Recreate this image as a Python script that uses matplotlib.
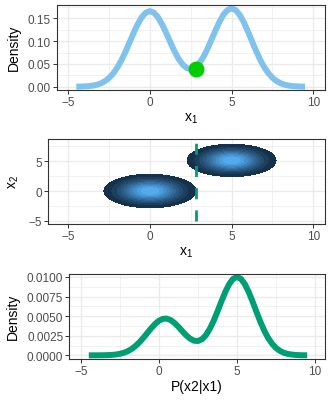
"""Three stacked panels: marginal density of x1, joint density, conditional P(x2|x1)."""

import matplotlib

matplotlib.use("Agg")
import matplotlib.pyplot as plt
import numpy as np
from matplotlib.colors import LinearSegmentedColormap

plt.rcParams["font.family"] = ["Liberation Sans", "DejaVu Sans"]
plt.rcParams["mathtext.fontset"] = "custom"
plt.rcParams["mathtext.rm"] = "Liberation Sans"

# --- data ------------------------------------------------------------------
grid_x = [-4.5, -4.25, -4.0, -3.75, -3.5, -3.25, -3.0, -2.75, -2.5, -2.25,
          -2.0, -1.75, -1.5, -1.25, -1.0, -0.75, -0.5, -0.25, 0.0, 0.25,
          0.5, 0.75, 1.0, 1.25, 1.5, 1.75, 2.0, 2.25, 2.5, 2.75, 3.0, 3.25,
          3.5, 3.75, 4.0, 4.25, 4.5, 4.75, 5.0, 5.25, 5.5, 5.75, 6.0, 6.25,
          6.5, 6.75, 7.0, 7.25, 7.5, 7.75, 8.0, 8.25, 8.5, 8.75, 9.0, 9.25,
          9.5]

# marginal density of x1
dens_x1 = [0.0001, 0.0003, 0.0006, 0.0013, 0.0024, 0.0042, 0.0073, 0.0120,
           0.0190, 0.0286, 0.0414, 0.0573, 0.0760, 0.0965, 0.1173, 0.1366,
           0.1522, 0.1624, 0.1660, 0.1625, 0.1524, 0.1369, 0.1180, 0.0978,
           0.0784, 0.0617, 0.0490, 0.0411, 0.0386, 0.0417, 0.0502, 0.0636,
           0.0811, 0.1013, 0.1221, 0.1418, 0.1578, 0.1683, 0.1720, 0.1683,
           0.1577, 0.1415, 0.1215, 0.1000, 0.0787, 0.0594, 0.0429, 0.0297,
           0.0196, 0.0125, 0.0076, 0.0044, 0.0024, 0.0013, 0.0007, 0.0003,
           0.00015]

# conditional density P(x2|x1)
dens_cond = [0.0, 0.000001, 0.000003, 0.000007, 0.000015, 0.000031, 0.000059,
             0.00011, 0.0002, 0.00033, 0.00053, 0.00082, 0.0012, 0.00168,
             0.00224, 0.00285, 0.00346, 0.00401, 0.00442, 0.00466, 0.00469,
             0.0045, 0.00412, 0.00363, 0.00307, 0.00254, 0.00212, 0.00186,
             0.00183, 0.00205, 0.00256, 0.00336, 0.00439, 0.00561, 0.00689,
             0.0081, 0.0091, 0.00977, 0.0100, 0.00977, 0.0091, 0.00808,
             0.00685, 0.00554, 0.00427, 0.00314, 0.0022, 0.00148, 0.00094,
             0.00057, 0.00033, 0.00018, 0.0001, 0.00005, 0.000024, 0.000011,
             0.000005]

x1_obs = 2.8
x1_obs_dens = 0.039

# joint density blobs (centre x, centre y, spread)
blob_cx = [0.0, 5.0]
blob_cy = [0.0, 5.15]
blob_sd = [1.22, 1.18]

cond_y = [-5.0, 8.0]   # extent of the dashed conditioning line

# --- styling ----------------------------------------------------------------
FIG_W, FIG_H = 332, 402
BLUE_LINE = "#80C2EE"
GREEN = "#009E73"
DOT = "#00CC00"
TICK_COL = "#4D4D4D"
GRID = "#EBEBEB"
BORDER = "#333333"
TICK_FS = 8.5
TITLE_FS = 10


def style(ax, xmajor, ymajor, xminor, yminor):
    ax.set_xticks(xmajor)
    ax.set_yticks(ymajor)
    ax.set_xticks(xminor, minor=True)
    ax.set_yticks(yminor, minor=True)
    ax.grid(True, which="major", color=GRID, lw=1.0, zorder=0)
    ax.grid(True, which="minor", color=GRID, lw=0.5, zorder=0)
    ax.set_axisbelow(True)
    ax.tick_params(which="major", length=2.8, width=0.7, color=BORDER,
                   labelsize=TICK_FS, labelcolor=TICK_COL, pad=1.5)
    ax.tick_params(which="minor", length=0)
    for s in ax.spines.values():
        s.set_color(BORDER)
        s.set_linewidth(0.8)


def px_axes(fig, left, top, right, bottom):
    return fig.add_axes([left / FIG_W, 1 - bottom / FIG_H,
                         (right - left) / FIG_W, (bottom - top) / FIG_H])


fig = plt.figure(figsize=(FIG_W / 100, FIG_H / 100), dpi=100)

xmaj = [-5, 0, 5, 10]
xmin = [-2.5, 2.5, 7.5]

# panel 1: marginal density
ax1 = px_axes(fig, 56.7, 5.7, 325, 90.7)
ax1.plot(grid_x, dens_x1, color=BLUE_LINE, lw=4.3, solid_capstyle="butt",
         solid_joinstyle="round", zorder=2)
ax1.plot([x1_obs], [x1_obs_dens], "o", color=DOT, ms=10.5, zorder=3)
ax1.set_xlim(-5.7, 10.72)
ax1.set_ylim(-0.0066, 0.18)
style(ax1, xmaj, [0.0, 0.05, 0.10, 0.15], xmin, [0.025, 0.075, 0.125, 0.175])
ax1.set_yticklabels(["0.00", "0.05", "0.10", "0.15"])
ax1.set_ylabel("Density", fontsize=TITLE_FS, labelpad=5)
ax1.set_xlabel(r"$\mathregular{x_1}$", fontsize=TITLE_FS, labelpad=2)

# panel 2: joint density
ax2 = px_axes(fig, 47.7, 139.7, 325, 224.7)
gx = np.linspace(-7, 11, 400)
gy = np.linspace(-6, 9, 300)
GX, GY = np.meshgrid(gx, gy)
field = np.zeros_like(GX)
for cx, cy, sd in zip(blob_cx, blob_cy, blob_sd):
    field = np.maximum(field, np.exp(-((GX - cx) ** 2 + (GY - cy) ** 2) / (2 * sd ** 2)))
levels = np.linspace(0.07, 1.0, 11)
cmap = LinearSegmentedColormap.from_list("gg", ["#132B43", "#56B1F7"])
ax2.contourf(GX, GY, field, levels=levels, cmap=cmap, zorder=1)
ax2.plot([x1_obs, x1_obs], cond_y, color=GREEN, lw=2.0, ls=(0, (4, 4)),
         zorder=3)
ax2.set_xlim(-6.26, 10.72)
ax2.set_ylim(-5.5, 8.8)
style(ax2, xmaj, [-5, 0, 5], xmin, [-2.5, 2.5, 7.5])
ax2.set_yticklabels(["\u22125", "0", "5"])
ax2.set_ylabel(r"$\mathregular{x_2}$", fontsize=TITLE_FS, labelpad=5)
ax2.set_xlabel(r"$\mathregular{x_1}$", fontsize=TITLE_FS, labelpad=2)

# panel 3: conditional density
ax3 = px_axes(fig, 69.3, 274.7, 325, 359.7)
ax3.plot(grid_x, dens_cond, color=GREEN, lw=4.3, solid_capstyle="butt",
         solid_joinstyle="round", zorder=2)
ax3.set_xlim(-5.75, 10.64)
ax3.set_ylim(-0.00043, 0.01042)
style(ax3, xmaj, [0.0, 0.0025, 0.005, 0.0075, 0.01], xmin,
      [0.00125, 0.00375, 0.00625, 0.00875])
ax3.set_yticklabels(["0.0000", "0.0025", "0.0050", "0.0075", "0.0100"])
ax3.set_ylabel("Density", fontsize=TITLE_FS, labelpad=5)
ax3.set_xlabel("P(x2|x1)", fontsize=TITLE_FS, labelpad=2)

for ax in (ax1, ax2, ax3):
    ax.set_xticklabels(["\u22125", "0", "5", "10"])

fig.savefig("out.png", dpi=100)
